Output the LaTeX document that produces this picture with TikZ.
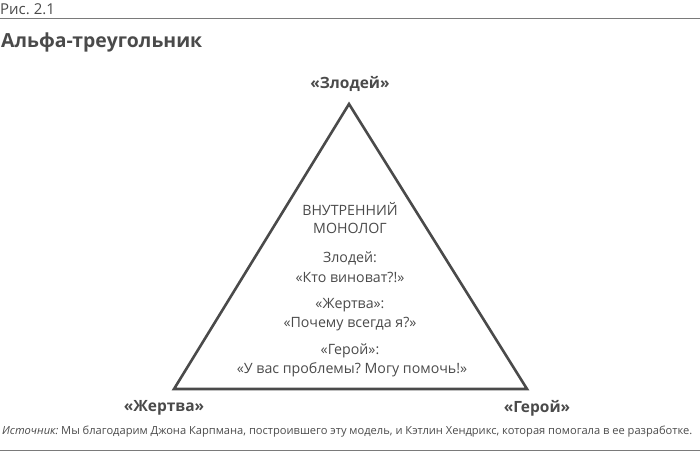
\documentclass[tikz,border=0pt]{standalone}
\usepackage{fontspec}
\setmainfont{Open Sans}
\frenchspacing
\begin{document}
\begin{tikzpicture}[x=1pt,y=-1pt,
  txt/.style={text=ink,inner sep=0pt,font=\fontsize{14.2}{17}\selectfont},
  lbl/.style={text=ink,inner sep=0pt,font=\fontsize{15.5}{18}\selectfont\bfseries},
  edge/.style={draw=ink,line width=2.6pt,line join=miter}]
\definecolor{ink}{HTML}{4A4A4A}
\definecolor{rule}{HTML}{7A7A7A}
\useasboundingbox (0,0) rectangle (700,453);
\node[txt,anchor=west,font=\fontsize{15}{17}\selectfont] (fig) at (0,9) {Рис. 2.1};
\coordinate (r1a) at (0,18.5); \coordinate (r1b) at (700,18.5);
\draw[rule,line width=1.8pt] (r1a) -- (r1b);
\node[txt,anchor=west,font=\fontsize{19.4}{23}\selectfont\bfseries] (title) at (1,42) {Альфа-треугольник};
\coordinate (A) at (349,104);
\coordinate (L) at (174,389);
\coordinate (R) at (527,389);
\draw[edge] (A) -- (L) -- (R) -- cycle;
\node[lbl] (villain) at (350,84) {«Злодей»};
\node[lbl] (victim) at (164,408) {«Жертва»};
\node[lbl] (hero) at (537,408) {«Герой»};
\node[txt] (m1) at (350,209) {ВНУТРЕННИЙ};
\node[txt] (m2) at (350,228) {МОНОЛОГ};
\node[txt] (v1) at (350,258) {Злодей:};
\node[txt] (v2) at (350,277) {«Кто виноват?!»};
\node[txt] (w1) at (350,305) {«Жертва»:};
\node[txt] (w2) at (350,324) {«Почему всегда я?»};
\node[txt] (h1) at (350,351) {«Герой»:};
\node[txt] (h2) at (352,370) {«У вас проблемы? Могу помочь!»};
\node[txt,anchor=west,font=\fontsize{11}{13}\selectfont] (src) at (2,432) {\resizebox{690pt}{!}{\itshape Источник:\upshape{} Мы благодарим Джона Карпмана, построившего эту модель, и Кэтлин Хендрикс, которая помогала в ее разработке.}};
\coordinate (r2a) at (0,450.5); \coordinate (r2b) at (700,450.5);
\draw[rule,line width=1.8pt] (r2a) -- (r2b);
\end{tikzpicture}
\end{document}
